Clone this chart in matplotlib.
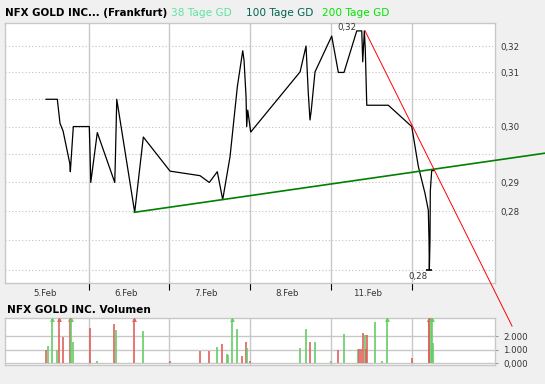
import numpy as np
import matplotlib
matplotlib.use("Agg")
import matplotlib.pyplot as plt
from matplotlib.ticker import NullLocator, FixedLocator

# price path: x = trading days since 5.Feb (one unit per day), y = price in EUR
price_day = [0.473, 0.613, 0.646, 0.684, 0.767, 0.774, 0.811, 1.009, 1.018, 1.027,
             1.108, 1.324, 1.331, 1.349, 1.571, 1.678, 2.009, 2.380, 2.495, 2.594,
             2.661, 2.752, 2.842, 2.909, 2.925, 2.950, 2.958, 2.971, 3.008, 3.247,
             3.619, 3.693, 3.721, 3.742, 3.758, 3.804, 4.011, 4.093, 4.163, 4.321,
             4.383, 4.395, 4.415, 4.427, 4.445, 4.712, 5.002, 5.084, 5.166, 5.207,
             5.216, 5.220, 5.228, 5.232, 5.249, 5.274]
price_val = [0.3100, 0.3100, 0.3056, 0.3042, 0.2984, 0.2969, 0.3050, 0.3050, 0.3002, 0.2950,
             0.3039, 0.2950, 0.2986, 0.3100, 0.2898, 0.3031, 0.2970, 0.2962, 0.2950, 0.2969,
             0.2920, 0.2996, 0.3123, 0.3191, 0.3173, 0.3105, 0.3050, 0.3080, 0.3040, 0.3083,
             0.3151, 0.3200, 0.3111, 0.3062, 0.3080, 0.3151, 0.3219, 0.3150, 0.3150, 0.3229,
             0.3229, 0.3170, 0.3229, 0.3192, 0.3089, 0.3089, 0.3050, 0.2978, 0.2931, 0.2902,
             0.2850, 0.2800, 0.2850, 0.2935, 0.2971, 0.2971]

# trend lines
red_day = [4.424, 6.244]
red_val = [0.3229, 0.2708]
green_day = [1.567, 6.653]
green_val = [0.2898, 0.3002]

day_labels = ["5.Feb", "6.Feb", "7.Feb", "8.Feb", "11.Feb"]
grid_vals = [0.320, 0.315, 0.310, 0.305, 0.300, 0.295, 0.290, 0.285, 0.280]
grid_labels = ["0,32", "0,31", "", "0,30", "", "0,29", "0,28", "", ""]

# volume (values above the cap are drawn cut off with an arrow)
vol_day = [0.477, 0.502, 0.551, 0.613, 0.638, 0.687, 0.774, 0.783, 0.811, 1.014,
           1.022, 1.108, 1.319, 1.340, 1.567, 1.678, 2.012, 2.384, 2.492, 2.594,
           2.656, 2.715, 2.731, 2.780, 2.842, 2.904, 2.954, 2.966, 3.003, 3.622,
           3.697, 3.746, 3.808, 4.006, 4.085, 4.167, 4.341, 4.353, 4.378, 4.402,
           4.420, 4.432, 4.452, 4.551, 4.638, 4.700, 5.009, 5.212, 5.220, 5.241,
           5.250, 5.269]
vol_val = [960, 1260, 4000, 960, 4000, 1950, 4000, 4000, 1580, 150,
           2610, 150, 2890, 2440, 4000, 2370, 150, 910, 910, 1210,
           1430, 670, 590, 4000, 2520, 540, 1580, 1110, 150, 1110,
           2520, 1560, 1560, 150, 960, 2150, 1010, 1010, 1010, 2220,
           2070, 1010, 2070, 3010, 150, 4000, 370, 4000, 4000, 4000,
           4000, 1460]
vol_dir = "rgggrrrggg" + "rgrgrgrrrg" + "rggggrrgrg" + "grggrggrrr" + "grrgggrrrg" + "gg"
vol_labels = ["0,000", "1.000", "2.000"]

RED = "#e0605e"
GREEN = "#66cc66"
bg = "#f0f0f0"
W, H = 545, 384

plt.rcParams["font.family"] = ["DejaVu Sans"]
fig = plt.figure(figsize=(W / 100, H / 100), dpi=100, facecolor=bg)

ax = fig.add_axes([5 / W, 1 - 283 / H, 490 / W, (283 - 22.6) / H])
vax = fig.add_axes([5 / W, 1 - 364.8 / H, 490 / W, (364.8 - 318.3) / H])

for a in (ax, vax):
    a.set_facecolor("white")
    for s in a.spines.values():
        s.set_color("#c8c8c8")
        s.set_linewidth(1.0)
    a.set_xlim(-0.035, 6.033)
    a.xaxis.set_major_locator(FixedLocator([1, 2, 3, 4, 5]))
    a.grid(axis="x", color="#c8c8c8", lw=1.0)
    a.set_axisbelow(True)

# ---- price panel
ax.set_yscale("log")
ax.set_ylim(0.27784, 0.32450)
ax.yaxis.set_major_locator(FixedLocator(grid_vals))
ax.yaxis.set_minor_locator(NullLocator())
ax.set_yticklabels(grid_labels)
ax.yaxis.tick_right()
ax.tick_params(axis="y", length=0, pad=4, labelsize=6.2, labelcolor="#333333")
ax.grid(axis="y", color="#c0c0c0", lw=0.8, linestyle=(0, (1, 2)))

ax.set_xticklabels([])
ax.xaxis.set_minor_locator(FixedLocator(np.arange(len(day_labels)) + 0.46))
ax.set_xticklabels(day_labels, minor=True)
ax.tick_params(axis="x", which="major", length=5, width=0.8, color="black", direction="out")
ax.tick_params(axis="x", which="minor", length=0, pad=4.5, labelsize=6.2, labelcolor="#333333")

ax.plot(price_day, price_val, color="black", lw=0.9, zorder=3)
ax.plot(green_day, green_val, color="#008000", lw=1.2, clip_on=False, zorder=4)
ax.plot(red_day, red_val, color="#ff0000", lw=0.7, clip_on=False, zorder=4)

imax = int(np.argmax(price_val))
imin = int(np.argmin(price_val))
ax.plot(price_day[imin], price_val[imin], marker="_", ms=5, mew=1.2, color="black", zorder=3)
fmt = lambda v: f"{v:.2f}".replace(".", ",")
ax.annotate(fmt(price_val[imax]), (price_day[imax], price_val[imax]), xytext=(-0.5, -0.5),
            textcoords="offset points", ha="right", va="bottom", fontsize=6.2, color="#333333")
ax.annotate(fmt(price_val[imin]), (price_day[imin], price_val[imin]), xytext=(-1, -1.5),
            textcoords="offset points", ha="right", va="top", fontsize=6.2, color="#333333")

# ---- volume panel
cap = 3250
vol_val = np.array(vol_val, dtype=float)
vol_day = np.array(vol_day)
cols = np.array([RED if c == "r" else GREEN for c in vol_dir])
vax.set_ylim(-133, 3311)
vax.vlines(vol_day, 0, np.minimum(vol_val, cap), colors=cols, lw=1.2, zorder=3)
over = vol_val > cap
for xd, c in zip(vol_day[over], cols[over]):
    vax.plot(xd, cap, marker="^", ms=3.5, color=c, mew=0, zorder=3)
vax.yaxis.set_major_locator(FixedLocator([0, 1000, 2000]))
vax.set_yticklabels(vol_labels)
vax.yaxis.tick_right()
vax.tick_params(axis="y", length=2, color="#999999", pad=4, labelsize=6.2, labelcolor="#333333")
vax.grid(axis="y", color="#c8c8c8", lw=1.0)
vax.tick_params(axis="x", length=0, labelbottom=False)

# ---- header texts
fig.text(5 / W, 1 - 13 / H, "NFX GOLD INC... (Frankfurt)", fontsize=7.4, fontweight="bold",
         va="center", ha="left", color="black")
fig.text(171 / W, 1 - 13 / H, "38 Tage GD", fontsize=7.6, va="center", color="#5ae6a0")
fig.text(246.5 / W, 1 - 13 / H, "100 Tage GD", fontsize=7.6, va="center", color="#006450")
fig.text(321.5 / W, 1 - 13 / H, "200 Tage GD", fontsize=7.6, va="center", color="#00e600")
fig.text(7 / W, 1 - 310 / H, "NFX GOLD INC. Volumen", fontsize=7.6, fontweight="bold",
         va="center", ha="left", color="black")

fig.savefig("out.png", dpi=100, facecolor=bg)
